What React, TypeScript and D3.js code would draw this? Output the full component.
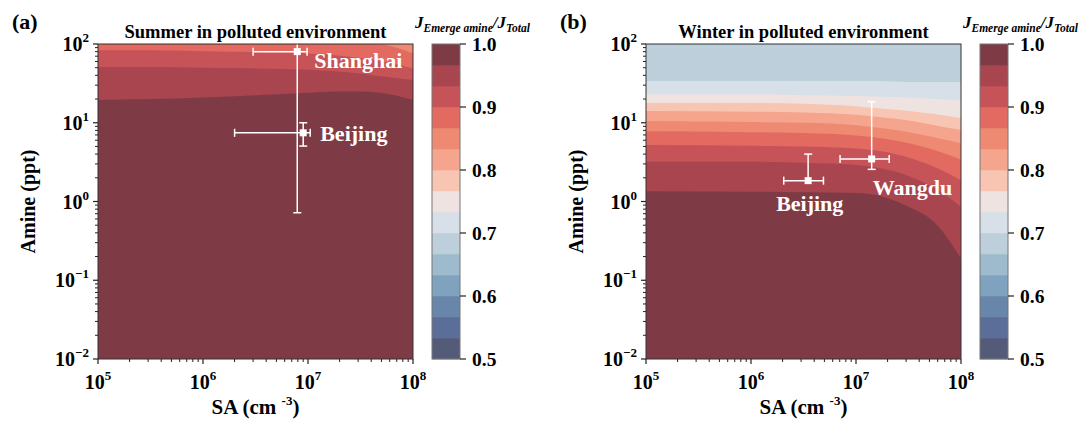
import React from 'react';
import * as d3 from 'd3';

// ---------- data ----------
const BAND_EDGES = [0.5, 0.5333, 0.5667, 0.6, 0.6333, 0.6667, 0.7, 0.7333, 0.7667, 0.8, 0.8333, 0.8667, 0.9, 0.9333, 0.9667, 1.0];
const BAND_COLORS = ['#535b78', '#5a6e99', '#6786aa', '#7fa3bf', '#9dbbcc', '#bccfda', '#d7dfe8', '#efe3e2',
  '#f8c5b3', '#f5a48d', '#ee8a72', '#e36a60', '#c65357', '#a8454f', '#7f3b45'];
const CBAR_TICKS = [0.5, 0.6, 0.7, 0.8, 0.9, 1.0];
const X_MAJOR = [1e5, 1e6, 1e7, 1e8];
const Y_MAJOR = [1e-2, 1e-1, 1e0, 1e1, 1e2];

// Summer: contour boundaries (amine ppt) along SA grid
const SUMMER_SA = [1e5, 3.2e5, 1e6, 3.2e6, 1e7, 1.8e7, 3.2e7, 5.6e7, 1e8];
const SUMMER_LEVEL_IDX = [12, 13, 14]; // edges 0.900, 0.933, 0.967
const SUMMER_BOUNDS = [
  [83, 83, 81, 79, 76, 72, 66, 59, 49],
  [51, 51, 50, 49, 47, 45, 42, 38, 35],
  [19.5, 20, 21, 22.4, 24, 25, 25, 23.4, 19.5],
];
const SUMMER_CORNER_SA = [5e7, 7.1e7, 1e8]; // edge 0.867 (top-right corner)
const SUMMER_CORNER_AMINE = [100, 89, 76];
const SUMMER_BG_IDX = 11;
const SUMMER_CORNER_IDX = 10;

// Winter
const WINTER_SA = [1e5, 1e6, 3.2e6, 1e7, 1.8e7, 3.2e7, 5.6e7, 1e8];
const WINTER_LEVEL_IDX = [6, 7, 8, 9, 10, 11, 12, 13, 14];
const WINTER_BOUNDS = [
  [34, 34, 34, 34, 34, 33, 33, 33],
  [23, 23, 22.4, 21.9, 21.4, 20.9, 20, 19.5],
  [17.8, 17.8, 17.4, 16.2, 15.1, 14.1, 12.9, 11.5],
  [14.1, 13.8, 13.5, 12.6, 11.7, 10.7, 9.3, 8.1],
  [10.5, 10.2, 10, 9.3, 8.5, 7.6, 6.5, 5.5],
  [7.8, 7.6, 7.4, 6.9, 6.3, 5.5, 4.5, 3.4],
  [5.2, 5.1, 5.0, 4.7, 4.3, 3.6, 2.75, 1.86],
  [3.2, 3.2, 3.1, 2.9, 2.6, 2.1, 1.48, 0.85],
  [1.35, 1.33, 1.31, 1.28, 1.15, 0.85, 0.54, 0.19],
];
const WINTER_BG_IDX = 5;

// Sites
const SUMMER_SITES = ['Shanghai', 'Beijing'];
const SUMMER_SA_VAL = [7.9e6, 9.0e6];
const SUMMER_SA_LO = [3.0e6, 2.0e6];
const SUMMER_SA_HI = [9.8e6, 1.05e7];
const SUMMER_AM_VAL = [80, 7.45];
const SUMMER_AM_LO = [0.72, 5.06];
const SUMMER_AM_HI = [130, 10];

const WINTER_SITES = ['Beijing', 'Wangdu'];
const WINTER_SA_VAL = [3.5e6, 1.41e7];
const WINTER_SA_LO = [2.05e6, 7.05e6];
const WINTER_SA_HI = [4.9e6, 2.07e7];
const WINTER_AM_VAL = [1.84, 3.47];
const WINTER_AM_LO = [1.84, 2.56];
const WINTER_AM_HI = [4.0, 18.5];

// ---------- layout ----------
const FONT = '"Liberation Serif", "Times New Roman", serif';
const TOP = 44, BOTTOM = 359, W = 315;

type PanelProps = {
  left: number; tag: string; title: string;
  sa: number[]; levelIdx: number[]; bounds: number[][]; bgIdx: number;
  corner?: { sa: number[]; amine: number[]; idx: number };
  sites: string[]; saV: number[]; saLo: number[]; saHi: number[]; amV: number[]; amLo: number[]; amHi: number[];
  labelPos: { dx: number; dy: number }[];
  clipId: string;
};

function Panel(p: PanelProps) {
  const x = d3.scaleLog().domain([1e5, 1e8]).range([p.left, p.left + W]);
  const y = d3.scaleLog().domain([1e-2, 1e2]).range([BOTTOM, TOP]);
  const right = p.left + W;

  const below = d3.area<[number, number]>()
    .x(d => x(d[0])).y0(BOTTOM).y1(d => y(d[1])).curve(d3.curveMonotoneX);
  const above = d3.area<[number, number]>()
    .x(d => x(d[0])).y0(TOP - 2).y1(d => y(d[1])).curve(d3.curveMonotoneX);

  const xMinor = x.ticks().filter(v => !X_MAJOR.some(m => Math.abs(m - v) / m < 1e-6));
  const yMinor = y.ticks().filter(v => !Y_MAJOR.some(m => Math.abs(m - v) / m < 1e-6));

  const cbLeft = right + 19, cbW = 28;
  const cy = d3.scaleLinear().domain([0.5, 1.0]).range([BOTTOM, TOP]);
  const midX = p.left + W / 2;

  const sup = (v: number) => {
    const e = Math.round(Math.log10(v));
    return e < 0 ? '\u2212' + Math.abs(e) : String(e);
  };

  return (
    <g fontFamily={FONT} fontWeight="bold">
      <defs>
        <clipPath id={p.clipId}><rect x={p.left} y={TOP} width={W} height={BOTTOM - TOP} /></clipPath>
      </defs>
      <text x={p.left - 86} y={29} fontSize={22}>{p.tag}</text>
      <text x={midX} y={38} fontSize={18.5} textAnchor="middle">{p.title}</text>
      <g clipPath={`url(#${p.clipId})`}>
        <rect x={p.left} y={TOP} width={W} height={BOTTOM - TOP} fill={BAND_COLORS[p.bgIdx]} />
        {p.corner && (
          <path d={above(p.corner.sa.map((s, i) => [s, p.corner!.amine[i]] as [number, number])) || ''}
            fill={BAND_COLORS[p.corner.idx]} />
        )}
        {p.bounds.map((b, k) => (
          <path key={k} d={below(p.sa.map((s, i) => [s, b[i]] as [number, number])) || ''}
            fill={BAND_COLORS[p.levelIdx[k]]} />
        ))}
        {p.sites.map((s, i) => {
          const cx = x(p.saV[i]), cyy = y(p.amV[i]);
          const xl = x(p.saLo[i]), xh = x(p.saHi[i]);
          const yl = y(p.amLo[i]), yh = y(p.amHi[i]);
          return (
            <g key={s} stroke="#fff" strokeWidth={1.5} fill="#fff">
              <line x1={xl} x2={xh} y1={cyy} y2={cyy} />
              <line x1={xl} x2={xl} y1={cyy - 4} y2={cyy + 4} />
              <line x1={xh} x2={xh} y1={cyy - 4} y2={cyy + 4} />
              <line x1={cx} x2={cx} y1={yl} y2={yh} />
              {p.amLo[i] !== p.amV[i] && <line x1={cx - 4} x2={cx + 4} y1={yl} y2={yl} />}
              <line x1={cx - 4} x2={cx + 4} y1={yh} y2={yh} />
              <rect x={cx - 3.5} y={cyy - 3.5} width={7} height={7} stroke="none" />
            </g>
          );
        })}
      </g>
      {p.sites.map((s, i) => (
        <text key={s} x={x(p.saV[i]) + p.labelPos[i].dx} y={y(p.amV[i]) + p.labelPos[i].dy}
          fill="#fff" fontSize={22}>{s}</text>
      ))}
      <rect x={p.left} y={TOP} width={W} height={BOTTOM - TOP} fill="none" stroke="#333" strokeWidth={1} />
      {X_MAJOR.map(v => (
        <g key={v}>
          <line x1={x(v)} x2={x(v)} y1={BOTTOM} y2={BOTTOM + 5} stroke="#222" strokeWidth={1.2} />
          <text x={x(v)} y={389} fontSize={20} textAnchor="middle">10<tspan dy={-9} fontSize={13}>{sup(v)}</tspan></text>
        </g>
      ))}
      {xMinor.map(v => <line key={v} x1={x(v)} x2={x(v)} y1={BOTTOM} y2={BOTTOM + 3} stroke="#222" strokeWidth={1} />)}
      {Y_MAJOR.map(v => (
        <g key={v}>
          <line x1={p.left - 5} x2={p.left} y1={y(v)} y2={y(v)} stroke="#222" strokeWidth={1.2} />
          <text x={p.left - 9} y={y(v) + 7} fontSize={20} textAnchor="end">10<tspan dy={-9} fontSize={13}>{sup(v)}</tspan></text>
        </g>
      ))}
      {yMinor.map(v => <line key={v} x1={p.left - 3} x2={p.left} y1={y(v)} y2={y(v)} stroke="#222" strokeWidth={1} />)}
      <text x={midX} y={414} fontSize={21} textAnchor="middle">SA (cm <tspan dy={-9} fontSize={13}>-3</tspan><tspan dy={9}>)</tspan></text>
      <text transform={`translate(${p.left - 63},${(TOP + BOTTOM) / 2}) rotate(-90)`} fontSize={20} textAnchor="middle">Amine (ppt)</text>
      {BAND_COLORS.map((c, i) => (
        <rect key={i} x={cbLeft} y={cy(BAND_EDGES[i + 1])} width={cbW} height={cy(BAND_EDGES[i]) - cy(BAND_EDGES[i + 1]) + 0.3} fill={c} />
      ))}
      <rect x={cbLeft} y={TOP} width={cbW} height={BOTTOM - TOP} fill="none" stroke="#777" strokeWidth={1} />
      {CBAR_TICKS.map(v => (
        <g key={v}>
          <line x1={cbLeft + cbW} x2={cbLeft + cbW + 6} y1={cy(v)} y2={cy(v)} stroke="#222" strokeWidth={1.2} />
          <text x={cbLeft + cbW + 12} y={cy(v) + 7} fontSize={19.5}>{v.toFixed(1)}</text>
        </g>
      ))}
      <text x={right + 2} y={28} fontSize={17} fontStyle="italic">J<tspan dy={4} fontSize={11.5}>Emerge amine</tspan><tspan dy={-4} fontSize={17}>/J</tspan><tspan dy={4} fontSize={11.5}>Total</tspan></text>
    </g>
  );
}

export default function App() {
  return (
    <svg width={1080} height={423} style={{ position: 'absolute', left: 0, top: 0, background: '#fff' }}>
      <rect width={1080} height={423} fill="#fff" />
      <Panel left={98} tag="(a)" title="Summer in polluted environment" clipId="clipA"
        sa={SUMMER_SA} levelIdx={SUMMER_LEVEL_IDX} bounds={SUMMER_BOUNDS} bgIdx={SUMMER_BG_IDX}
        corner={{ sa: SUMMER_CORNER_SA, amine: SUMMER_CORNER_AMINE, idx: SUMMER_CORNER_IDX }}
        sites={SUMMER_SITES} saV={SUMMER_SA_VAL} saLo={SUMMER_SA_LO} saHi={SUMMER_SA_HI}
        amV={SUMMER_AM_VAL} amLo={SUMMER_AM_LO} amHi={SUMMER_AM_HI}
        labelPos={[{ dx: 17, dy: 16 }, { dx: 17, dy: 8 }]} />
      <Panel left={646} tag="(b)" title="Winter in polluted environment" clipId="clipB"
        sa={WINTER_SA} levelIdx={WINTER_LEVEL_IDX} bounds={WINTER_BOUNDS} bgIdx={WINTER_BG_IDX}
        sites={WINTER_SITES} saV={WINTER_SA_VAL} saLo={WINTER_SA_LO} saHi={WINTER_SA_HI}
        amV={WINTER_AM_VAL} amLo={WINTER_AM_LO} amHi={WINTER_AM_HI}
        labelPos={[{ dx: -32, dy: 30 }, { dx: 1, dy: 36 }]} />
    </svg>
  );
}
